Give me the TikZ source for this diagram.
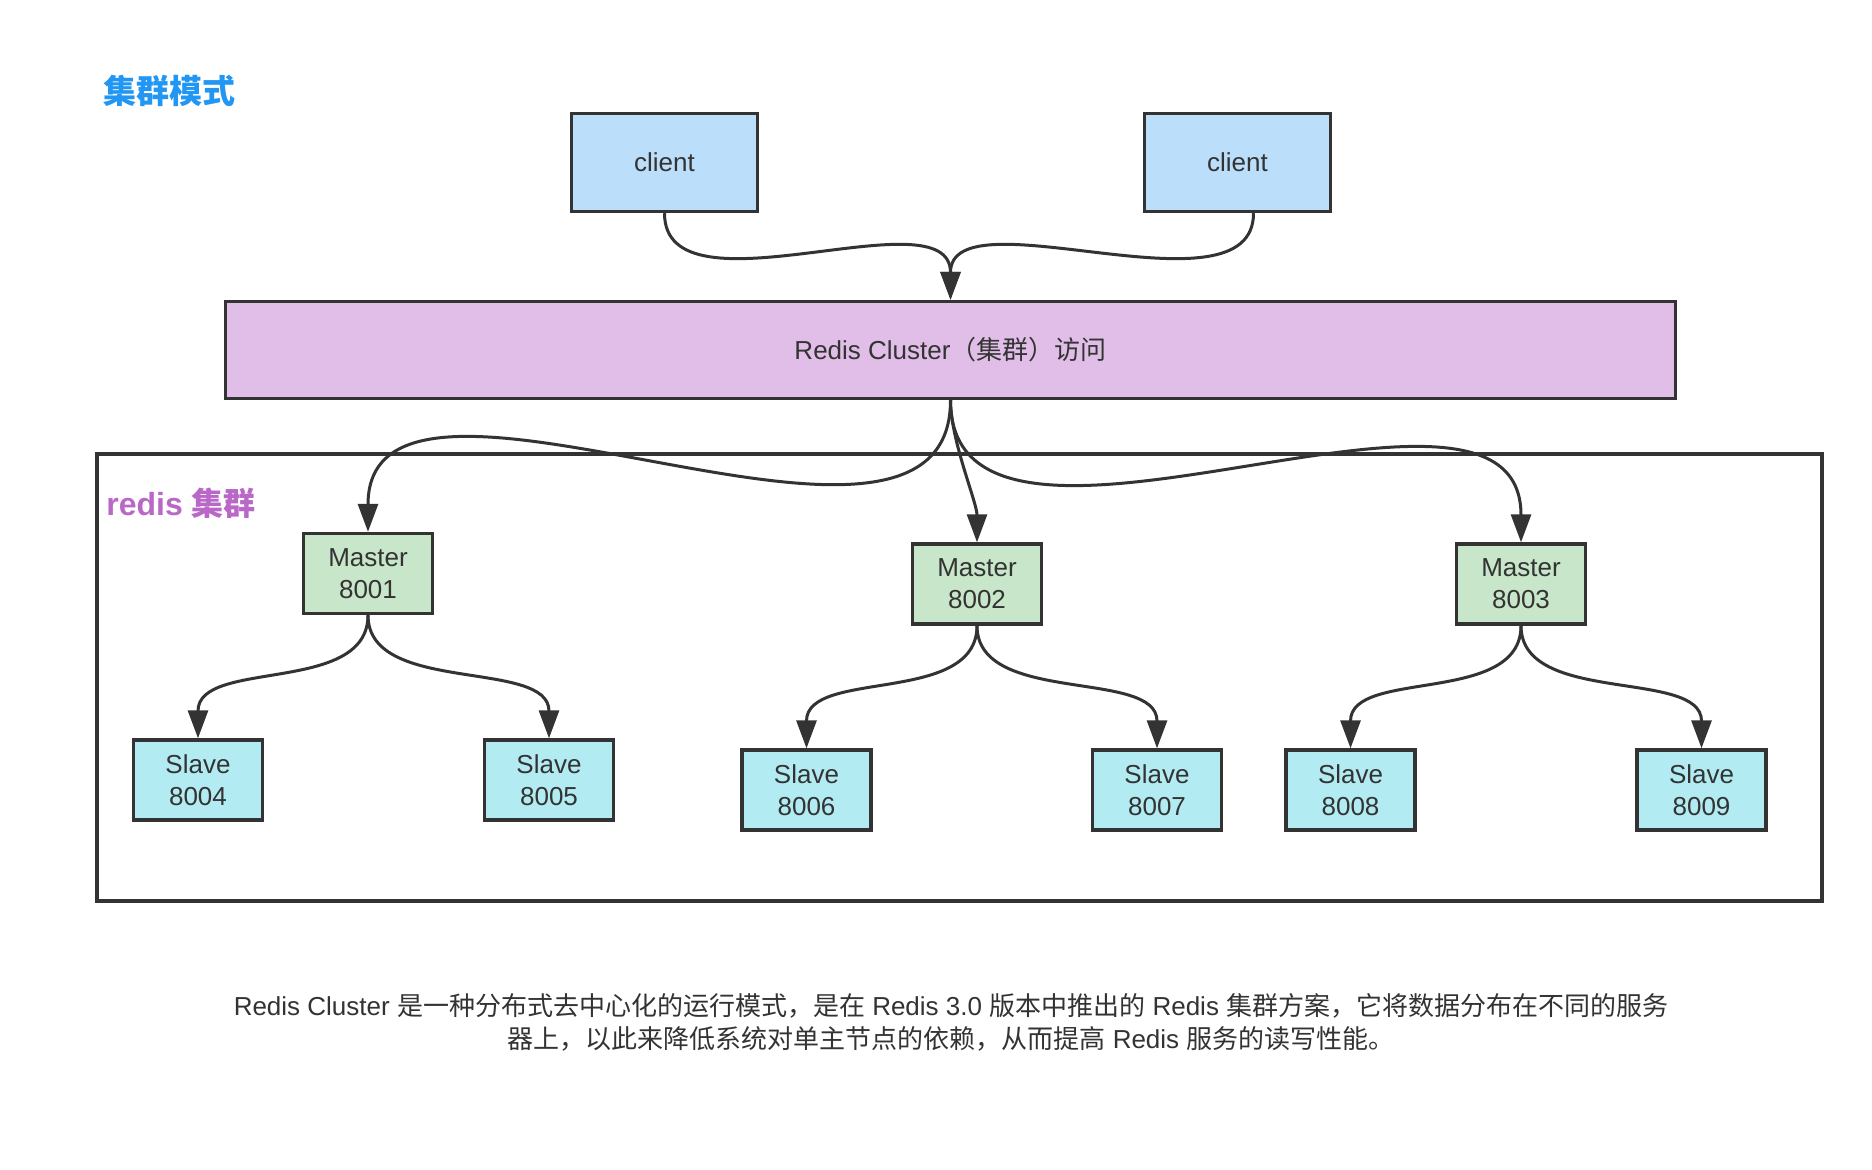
\documentclass[tikz,border=0pt]{standalone}
\usepackage{fontspec}
\setmainfont{Liberation Sans}
\newfontfamily\cjk{Noto Sans CJK SC}
\usetikzlibrary{arrows.meta}
\definecolor{edge}{HTML}{333333}
\definecolor{txt}{HTML}{333333}
\definecolor{clientfill}{HTML}{BBDEFB}
\definecolor{clusterfill}{HTML}{E1BEE7}
\definecolor{masterfill}{HTML}{C8E6C9}
\definecolor{slavefill}{HTML}{B2EBF2}
\definecolor{titleblue}{HTML}{2196F3}
\definecolor{labelpurple}{HTML}{BA68C8}
\begin{document}
\begin{tikzpicture}[x=0.5pt,y=-0.5pt,
  box/.style={draw=edge,line width=1.7pt,text=txt,font=\fontsize{13}{16}\selectfont,align=center,inner sep=0pt},
  clientbox/.style={box,fill=clientfill,minimum width=93pt,minimum height=49pt},
  clusterbox/.style={box,fill=clusterfill,minimum width=725pt,minimum height=48.5pt},
  masterbox/.style={box,fill=masterfill,minimum width=64.5pt,minimum height=40pt},
  slavebox/.style={box,fill=slavefill,minimum width=64.5pt,minimum height=40pt},
  conn/.style={draw=edge,line width=1.5pt,-{Triangle[length=14pt,width=10pt]}},
  frame/.style={draw=edge,line width=1.6pt}]
\useasboundingbox (0,0) rectangle (1872,1169);
\fill[white] (0,0) rectangle (1872,1169);

% title
\node[anchor=west,inner sep=0pt,text=titleblue,font=\cjk\bfseries\fontsize{16.5}{18}\selectfont] (title) at (103,91) {集群模式};

% container
\draw[frame] (97,454) rectangle (1822,901);
\node[anchor=west,inner sep=0pt,text=labelpurple,font=\bfseries\fontsize{16}{18}\selectfont] (grp) at (106,503) {redis {\cjk\bfseries 集群}};

% nodes
\node[clientbox] (c1) at (664.5,162.5) {client};
\node[clientbox] (c2) at (1237.5,162.5) {client};
\node[clusterbox] (cl) at (950.5,350) {Redis Cluster{\cjk （集群）访问}};

\node[masterbox] (m1) at (368,573.5) {Master\\8001};
\node[masterbox] (m2) at (977,584) {Master\\8002};
\node[masterbox] (m3) at (1521,584) {Master\\8003};

\node[slavebox] (s4) at (198,780) {Slave\\8004};
\node[slavebox] (s5) at (549,780) {Slave\\8005};
\node[slavebox] (s6) at (806.5,790) {Slave\\8006};
\node[slavebox] (s7) at (1157,790) {Slave\\8007};
\node[slavebox] (s8) at (1350.5,790) {Slave\\8008};
\node[slavebox] (s9) at (1701.5,790) {Slave\\8009};

% connectors
\draw[conn] (c1.south) .. controls +(0,108) and +(0,-108) .. (cl.north);
\draw[conn] ([xshift=8pt]c2.south) .. controls +(0,108) and +(0,-108) .. (cl.north);

\draw[conn] (cl.south) .. controls +(0,225) and +(0,-225) .. (m1.north);
\draw[conn] (cl.south) .. controls +(0,40) and +(0,-40) .. (m2.north);
\draw[conn] (cl.south) .. controls +(0,220) and +(0,-220) .. (m3.north);

\draw[conn] (m1.south) .. controls +(0,80) and +(0,-80) .. (s4.north);
\draw[conn] (m1.south) .. controls +(0,80) and +(0,-80) .. (s5.north);
\draw[conn] (m2.south) .. controls +(0,80) and +(0,-80) .. (s6.north);
\draw[conn] (m2.south) .. controls +(0,80) and +(0,-80) .. (s7.north);
\draw[conn] (m3.south) .. controls +(0,80) and +(0,-80) .. (s8.north);
\draw[conn] (m3.south) .. controls +(0,80) and +(0,-80) .. (s9.north);

% caption
\node[align=center,inner sep=0pt,text=txt,font=\fontsize{13}{16.5}\selectfont] (cap) at (951,1022)
{Redis Cluster {\cjk 是一种分布式去中心化的运行模式，是在} Redis 3.0 {\cjk 版本中推出的} Redis {\cjk 集群方案，它将数据分布在不同的服务}\\
{\cjk 器上，以此来降低系统对单主节点的依赖，从而提高} Redis {\cjk 服务的读写性能。}};
\end{tikzpicture}
\end{document}
